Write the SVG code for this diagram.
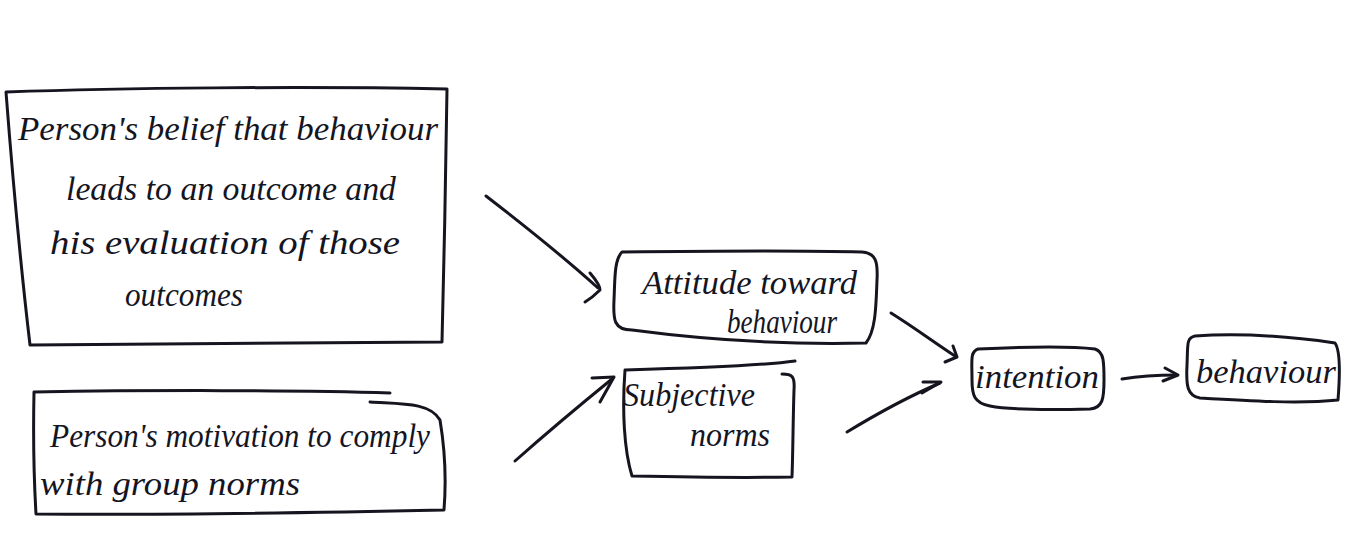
<svg xmlns="http://www.w3.org/2000/svg" width="1354" height="555" viewBox="0 0 1354 555">
<style>
.s{fill:none;stroke:#15151f;stroke-width:3;stroke-linecap:round;stroke-linejoin:round}
.t{font-family:"Liberation Serif",serif;font-style:italic;fill:#15151f;font-size:33px}
</style>
<rect width="1354" height="555" fill="#ffffff"/>
<g id="node-belief">
<path class="s" d="M6,92 C120,88 300,86 447,89 C446,170 444,260 442,342 C300,344 160,345 30,345 C20,260 12,170 6,92 Z"/>
<text class="t" x="18" y="140" textLength="420" lengthAdjust="spacingAndGlyphs">Person's belief that behaviour</text>
<text class="t" x="66" y="200" textLength="330" lengthAdjust="spacingAndGlyphs">leads to an outcome and</text>
<text class="t" x="50" y="254" textLength="350" lengthAdjust="spacingAndGlyphs">his evaluation of those</text>
<text class="t" x="125" y="306" textLength="118" lengthAdjust="spacingAndGlyphs">outcomes</text>
</g>
<g id="node-motivation">
<path class="s" d="M34,392 C150,390 300,390 390,393 M370,402 C400,404 430,402 440,420 C445,450 446,485 444,510 C300,513 150,515 36,514 C34,480 33,440 34,392"/>
<text class="t" x="50" y="447" textLength="380" lengthAdjust="spacingAndGlyphs">Person's motivation to comply</text>
<text class="t" x="40" y="495" textLength="260" lengthAdjust="spacingAndGlyphs">with group norms</text>
</g>
<g id="node-attitude">
<path class="s" d="M622,252 C700,251 790,250 862,252 C876,253 878,262 877,280 C876,305 876,330 866,343 C780,345 700,339 632,330 C614,330 613,320 614,300 C615,280 614,260 622,252 Z"/>
<text class="t" x="642" y="294" textLength="215" lengthAdjust="spacingAndGlyphs">Attitude toward</text>
<text class="t" x="727" y="333" textLength="110" lengthAdjust="spacingAndGlyphs">behaviour</text>
</g>
<g id="node-subjective">
<path class="s" d="M625,370 C700,368 760,366 795,361 M782,374 C792,374 795,376 794,390 C793,420 793,450 792,477 C740,478 680,477 632,476 C624,450 622,410 625,370"/>
<text class="t" x="623" y="406" textLength="132" lengthAdjust="spacingAndGlyphs">Subjective</text>
<text class="t" x="690" y="446" textLength="80" lengthAdjust="spacingAndGlyphs">norms</text>
</g>
<g id="node-intention">
<path class="s" d="M978,349 C1020,347 1070,346 1095,349 C1104,352 1104,362 1104,380 C1104,398 1103,408 1090,409 C1050,410 1010,410 990,406 C974,403 972,395 972,380 C972,360 970,352 978,349 Z"/>
<text class="t" x="975" y="388" textLength="124" lengthAdjust="spacingAndGlyphs">intention</text>
</g>
<g id="node-behaviour">
<path class="s" d="M1195,336 C1250,332 1300,338 1335,343 C1340,350 1340,375 1338,400 C1300,404 1250,401 1200,398 C1187,396 1186,385 1187,365 C1188,345 1186,338 1195,336 Z"/>
<text class="t" x="1196" y="383" textLength="140" lengthAdjust="spacingAndGlyphs">behaviour</text>
</g>
<g id="connectors">
<path class="s" d="M486,196 C530,230 565,258 598,288"/>
<path class="s" d="M590,273 C596,280 600,286 600,290 C595,295 590,299 585,302"/>
<path class="s" d="M515,461 C550,430 580,405 612,379"/>
<path class="s" d="M592,378 L614,377 L600,402"/>
<path class="s" d="M891,313 C915,328 935,343 955,356"/>
<path class="s" d="M953,346 L957,357 L945,362"/>
<path class="s" d="M847,432 C875,415 905,398 940,383"/>
<path class="s" d="M923,382 L941,382 L922,393"/>
<path class="s" d="M1122,379 C1140,376 1160,375 1177,375"/>
<path class="s" d="M1165,368 L1178,375 L1163,381"/>
</g>
</svg>
